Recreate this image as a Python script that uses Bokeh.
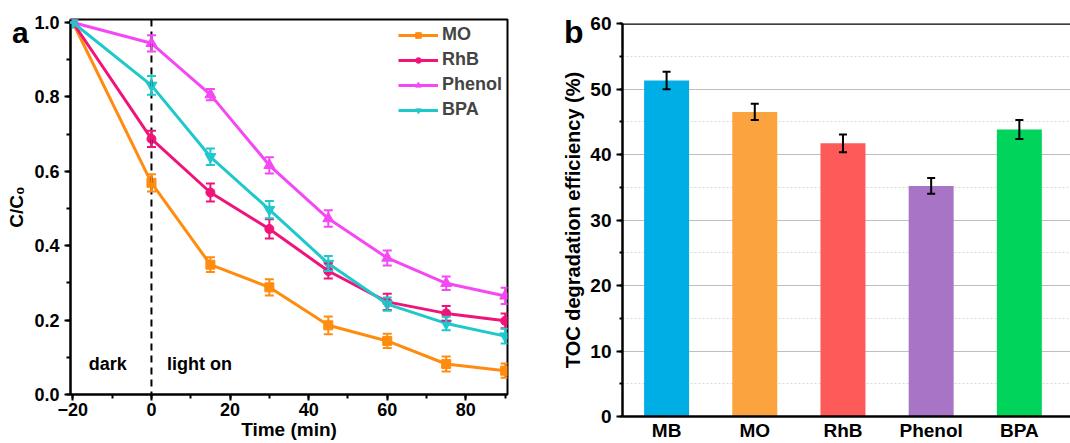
from bokeh.plotting import figure
from bokeh.layouts import row, column
from bokeh.models import (ColumnDataSource, Whisker, Span, Label, SingleIntervalTicker,
                          FixedTicker, Range1d, Legend, LegendItem, NumeralTickFormatter, Div)
from bokeh.embed import file_html
from bokeh.resources import INLINE

# ---------------- data ----------------
time_min = [-20, 0, 15, 30, 45, 60, 75, 90]
mo = [1.0, 0.569, 0.349, 0.288, 0.186, 0.144, 0.082, 0.064]
mo_err = [0.0, 0.023, 0.02, 0.022, 0.024, 0.019, 0.02, 0.019]
rhb = [1.0, 0.687, 0.543, 0.445, 0.332, 0.249, 0.218, 0.198]
rhb_err = [0.0, 0.022, 0.024, 0.026, 0.02, 0.022, 0.02, 0.02]
phenol = [1.0, 0.944, 0.806, 0.616, 0.473, 0.367, 0.299, 0.265]
phenol_err = [0.0, 0.022, 0.015, 0.022, 0.022, 0.02, 0.018, 0.022]
bpa = [1.0, 0.831, 0.639, 0.497, 0.352, 0.243, 0.191, 0.157]
bpa_err = [0.0, 0.025, 0.022, 0.023, 0.02, 0.018, 0.018, 0.02]

toc_labels = ["MB", "MO", "RhB", "Phenol", "BPA"]
toc_values = [51.3, 46.5, 41.7, 35.2, 43.8]
toc_err = [1.35, 1.25, 1.35, 1.2, 1.45]

panel_tags = ["a", "b"]

FONT = "Liberation Sans"

# ---------------- panel a ----------------
p1 = figure(width=530, height=443, output_backend="svg", toolbar_location=None,
            x_range=Range1d(-20.6, 90.6), y_range=Range1d(0, 1.008),
            min_border_left=70, min_border_right=23, min_border_top=19, min_border_bottom=49)
p1.xgrid.visible = False
p1.ygrid.visible = False
p1.outline_line_color = "black"
p1.outline_line_width = 2
p1.background_fill_color = "white"

p1.xaxis.ticker = SingleIntervalTicker(interval=20, num_minor_ticks=2)
p1.yaxis.ticker = SingleIntervalTicker(interval=0.2, num_minor_ticks=2)
for ax in (p1.xaxis, p1.yaxis):
    ax.axis_line_width = 2
    ax.axis_line_color = "black"
    ax.major_tick_line_width = 2
    ax.minor_tick_line_width = 2
    ax.major_tick_in = 0
    ax.major_tick_out = 6
    ax.minor_tick_in = 0
    ax.minor_tick_out = 4
    ax.major_label_text_font = FONT
    ax.major_label_text_font_style = "bold"
    ax.major_label_text_font_size = "18px"
    ax.major_label_text_color = "black"
    ax.axis_label_text_font = FONT
    ax.axis_label_text_font_style = "bold"
    ax.axis_label_text_font_size = "19px"
    ax.axis_label_text_color = "black"
p1.yaxis.formatter = NumeralTickFormatter(format="0.0")
p1.xaxis.axis_label = "Time (min)"
p1.yaxis.axis_label = "C/C₀"
p1.xaxis.axis_label_standoff = 0
p1.yaxis.axis_label_standoff = 4
p1.xaxis.major_label_standoff = 2
p1.yaxis.major_label_standoff = 5

series = [
    ("MO", mo, mo_err, "#FF8C0F", "square"),
    ("RhB", rhb, rhb_err, "#F0147A", "circle"),
    ("Phenol", phenol, phenol_err, "#F548F5", "triangle"),
    ("BPA", bpa, bpa_err, "#1FC8CC", "inverted_triangle"),
]
items = []
for name, ys, errs, col, mk in series:
    src = ColumnDataSource(dict(x=time_min, y=ys,
                                lo=[a - b for a, b in zip(ys, errs)],
                                hi=[a + b for a, b in zip(ys, errs)]))
    r1 = p1.line("x", "y", source=src, line_color=col, line_width=3)
    sz = 9 if mk in ("square", "circle") else 11
    r2 = p1.scatter("x", "y", source=src, marker=mk, size=sz, fill_color=col, line_color=col)
    w = Whisker(source=src, base="x", lower="lo", upper="hi", line_color=col, line_width=2,
                level="overlay")
    w.upper_head.line_color = col
    w.lower_head.line_color = col
    w.upper_head.line_width = 2
    w.lower_head.line_width = 2
    w.upper_head.size = 9
    w.lower_head.size = 9
    p1.add_layout(w)
    items.append(LegendItem(label=name, renderers=[r1, r2]))

legend = Legend(items=items, location="top_right", border_line_color=None,
                background_fill_alpha=0, label_text_font=FONT, label_text_font_style="bold",
                label_text_font_size="18px", glyph_width=40, glyph_height=14,
                spacing=4, padding=4, margin=5, label_standoff=4)
p1.add_layout(legend)

p1.add_layout(Span(location=0, dimension="height", line_color="black", line_width=2,
                   line_dash="7 5"))
p1.add_layout(Label(x=-11.1, y=0.083, text="dark", text_align="center", text_baseline="middle",
                    text_color="black",
                    text_font=FONT, text_font_style="bold", text_font_size="18px"))
p1.add_layout(Label(x=12.2, y=0.083, text="light on", text_align="center", text_baseline="middle",
                    text_color="black",
                    text_font=FONT, text_font_style="bold", text_font_size="18px"))

# ---------------- panel b ----------------
bar_x = list(range(1, len(toc_labels) + 1))
bar_colors = ["#00AEE6", "#FBA33E", "#FF5A5A", "#A874C6", "#00D45A"]

p2 = figure(width=540, height=443, output_backend="svg", toolbar_location=None,
            x_range=Range1d(0.5, 5.58), y_range=Range1d(0, 60),
            min_border_left=92, min_border_right=0, min_border_top=23, min_border_bottom=26)
p2.outline_line_color = None
p2.xgrid.visible = False
p2.ygrid.grid_line_color = "#BEBEBE"
p2.ygrid.grid_line_width = 1
p2.ygrid.minor_grid_line_color = "#D8D8D8"
p2.ygrid.minor_grid_line_dash = "2 2"
p2.yaxis.ticker = SingleIntervalTicker(interval=10, num_minor_ticks=2)
p2.xaxis.ticker = FixedTicker(ticks=bar_x)
p2.xaxis.major_label_overrides = {i: lab for i, lab in zip(bar_x, toc_labels)}
for ax in (p2.xaxis, p2.yaxis):
    ax.axis_line_width = 2.5
    ax.axis_line_color = "black"
    ax.major_label_text_font = FONT
    ax.major_label_text_font_style = "bold"
    ax.major_label_text_font_size = "19px"
    ax.major_label_text_color = "black"
    ax.axis_label_text_font = FONT
    ax.axis_label_text_font_style = "bold"
    ax.axis_label_text_font_size = "20px"
    ax.axis_label_text_color = "black"
p2.xaxis.major_tick_line_color = None
p2.xaxis.minor_tick_line_color = None
p2.xaxis.major_tick_out = 0
p2.xaxis.minor_tick_out = 0
p2.xaxis.major_label_standoff = 3
p2.yaxis.major_tick_line_width = 2
p2.yaxis.minor_tick_line_width = 2
p2.yaxis.major_tick_in = 0
p2.yaxis.major_tick_out = 6
p2.yaxis.minor_tick_in = 0
p2.yaxis.minor_tick_out = 3
p2.yaxis.major_label_standoff = 5
p2.yaxis.axis_label = "TOC degradation efficiency (%)"
p2.yaxis.axis_label_standoff = 3

bsrc = ColumnDataSource(dict(x=bar_x, top=toc_values, color=bar_colors,
                             lo=[a - b for a, b in zip(toc_values, toc_err)],
                             hi=[a + b for a, b in zip(toc_values, toc_err)]))
p2.vbar(x="x", top="top", width=0.51, source=bsrc, fill_color="color", line_color=None)
wb = Whisker(source=bsrc, base="x", lower="lo", upper="hi", line_color="black", line_width=2,
             level="overlay")
wb.upper_head.line_width = 2
wb.lower_head.line_width = 2
wb.upper_head.size = 8
wb.lower_head.size = 8
p2.add_layout(wb)
p2.add_layout(Span(location=60, dimension="width", line_color="black", line_width=2.5))

# panel letters as absolutely positioned text elements
def tag_div(txt, left, top, size):
    return Div(text=txt, width=30, height=40,
               styles={"position": "absolute", "left": f"{left}px", "top": f"{top}px",
                       "font-family": FONT, "font-weight": "bold", "font-size": f"{size}px",
                       "line-height": "1", "color": "black", "z-index": "10"})

div_a = tag_div(panel_tags[0], 7, 13, 30)
div_b = tag_div(panel_tags[1], 559, 11, 32)

layout = row(column(p1), column(p2), div_a, div_b)
open("out.html", "w").write(file_html(layout, INLINE))
